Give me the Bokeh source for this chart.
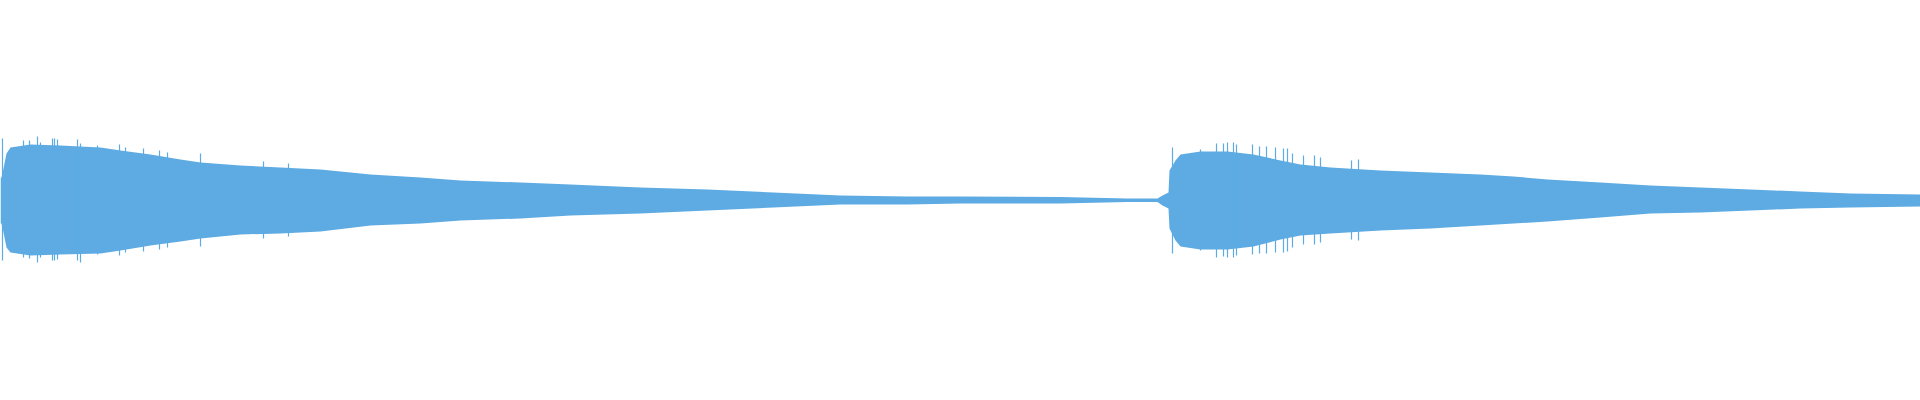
from bokeh.plotting import figure
from bokeh.embed import file_html
from bokeh.resources import INLINE
from bokeh.models import Range1d

# Waveform envelope (time in arbitrary units 0..1920,
# amplitude in units where +-200 is the full plot height)
env_t = [0, 1, 3, 6, 10, 30, 60, 100, 120, 150, 180, 200, 240, 280, 320, 370,
         420, 460, 520, 570, 640, 707, 773, 840, 907, 960, 1060, 1127, 1157,
         1162, 1168, 1169, 1175, 1180, 1200, 1227, 1253, 1280, 1300, 1330,
         1380, 1430, 1480, 1513, 1547, 1600, 1650, 1700, 1750, 1800, 1850, 1920]
env_top = [23, 23, 32, 47, 53, 56, 55, 53, 50, 46, 41, 38, 35, 33, 31, 26,
           23, 20, 18, 16, 13, 11, 8, 5, 4, 4, 3.5, 2, 2,
           5, 8, 30, 40, 46, 49, 49, 46, 40, 36, 33,
           30, 28, 26, 24, 21, 18, 15, 13, 11, 9, 7, 6]
env_bot = [-23, -23, -32, -47, -52, -55, -54, -53, -50, -45, -41, -38, -34, -33, -31, -25,
           -23, -20, -18, -15, -13, -10, -7, -4, -4, -3, -3, -1.5, -1.5,
           -5, -8, -28, -40, -46, -49, -49, -46, -39, -35, -33,
           -30, -28, -25, -23, -21, -17, -13, -12, -10, -8, -7, -6]

# Prominent single-sample peaks
spike_t = [2, 23, 29, 37, 40, 52, 54, 57, 77, 80, 97, 119, 125, 143, 159, 167,
           200, 263, 288,
           1172, 1176, 1200, 1216, 1223, 1227, 1233, 1236, 1252, 1259, 1266,
           1275, 1283, 1287, 1292, 1303, 1314, 1320, 1351, 1358]
spike_top = [62, 60, 60, 64, 58, 62, 62, 61, 61, 57, 55, 56, 53, 52, 50, 48,
             47, 39, 37,
             53, 37, 51, 57, 57, 58, 58, 56, 56, 54, 54,
             53, 52, 52, 47, 45, 45, 43, 40, 41]
spike_bot = [-60, -57, -58, -62, -57, -60, -60, -59, -60, -62, -54, -55, -52, -51, -49, -47,
             -46, -38, -36,
             -53, -35, -50, -57, -56, -57, -57, -55, -54, -53, -53,
             -52, -52, -51, -47, -44, -44, -42, -39, -40]

SCALE = 200.0
top = [v / SCALE for v in env_top]
bot = [v / SCALE for v in env_bot]
stop = [v / SCALE for v in spike_top]
sbot = [v / SCALE for v in spike_bot]

COLOR = "#5DABE2"

p = figure(width=1920, height=400, output_backend="svg", toolbar_location=None,
           x_range=Range1d(0, 1920), y_range=Range1d(-1, 1), min_border=0)
p.axis.visible = False
p.grid.visible = False
p.outline_line_color = None
p.background_fill_color = "white"
p.border_fill_color = "white"

p.varea(x=env_t, y1=bot, y2=top, fill_color=COLOR, fill_alpha=1.0)
p.segment(x0=spike_t, y0=sbot, x1=spike_t, y1=stop, line_color=COLOR, line_width=1.2)

open("out.html", "w").write(file_html(p, INLINE))
